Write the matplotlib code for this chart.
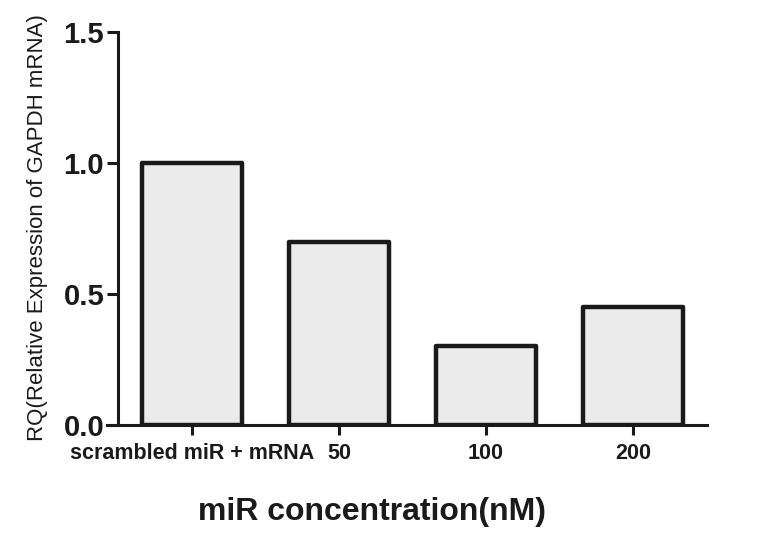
import matplotlib.pyplot as plt
import numpy as np

# data
categories = ["scrambled miR + mRNA", "50", "100", "200"]
rq_values = [1.0, 0.70, 0.30, 0.45]
y_ticks = [0.0, 0.5, 1.0, 1.5]
y_tick_labels = ["0.0", "0.5", "1.0", "1.5"]

plt.rcParams['font.family'] = ['Liberation Sans', 'DejaVu Sans']

fig = plt.figure(figsize=(7.79, 5.37), dpi=100)
ax = fig.add_axes([107 / 779, 1 - 425 / 537, 600 / 779, 393 / 537])

x = np.arange(len(categories))
ax.bar(x, rq_values, width=0.68, color="#ebebeb", edgecolor="#1a1a1a",
       linewidth=3.2, joinstyle="round", zorder=2)

ax.set_xlim(-0.578, 3.503)
ax.set_ylim(0, 1.5)

for s in ["top", "right"]:
    ax.spines[s].set_visible(False)
ax.spines["left"].set_position(("data", -0.503))
ax.spines["left"].set_linewidth(2.2)
ax.spines["bottom"].set_linewidth(2.2)
ax.spines["left"].set_color("#1a1a1a")
ax.spines["bottom"].set_color("#1a1a1a")

ax.set_yticks(y_ticks)
ax.set_yticklabels(y_tick_labels, fontsize=21, fontweight="bold")
ax.set_xticks(x)
ax.set_xticklabels(categories, fontsize=15.5, fontweight="bold")
ax.tick_params(axis="y", length=8, width=2.2, pad=2, colors="#1a1a1a")
ax.tick_params(axis="x", length=7, width=2.2, pad=6, colors="#1a1a1a")

fig.text(38 / 779, 1 - 228 / 537, "RQ(Relative Expression of GAPDH mRNA)",
         rotation=90, ha="center", va="center", fontsize=16, color="#1a1a1a")
fig.text(372 / 779, 1 - 512 / 537, "miR concentration(nM)",
         ha="center", va="center", fontsize=23, fontweight="bold", color="#1a1a1a")

fig.savefig("out.png", dpi=100)
